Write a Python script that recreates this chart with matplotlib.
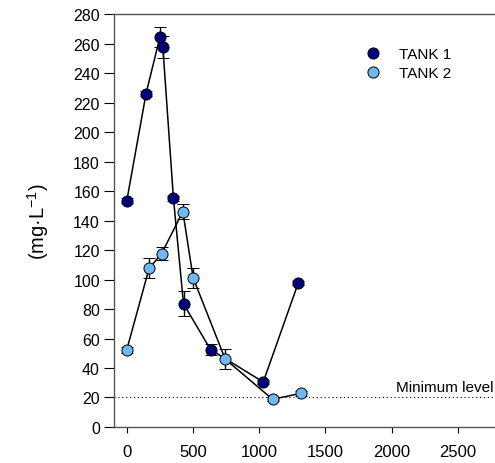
import numpy as np
import matplotlib
matplotlib.use("Agg")
import matplotlib.pyplot as plt
from matplotlib.lines import Line2D

plt.rcParams['font.family'] = ['Liberation Sans', 'DejaVu Sans']
plt.rcParams['mathtext.fontset'] = 'custom'
plt.rcParams['mathtext.rm'] = 'Liberation Sans'

# data
tank1_x = [0, 145, 250, 272, 352, 428, 632, 1030, 1295]
tank1_y = [153.5, 226, 264.5, 257.5, 155, 83.5, 52.5, 30.5, 97.8]
tank1_err = [1.5, 1.5, 6.8, 7.3, 1.5, 8.4, 3.5, 1.5, 1.5]

tank2_x = [0, 168, 262, 423, 501, 743, 1100, 1314]
tank2_y = [52.5, 107.5, 117.5, 146, 101, 46, 18.8, 22.8]
tank2_err = [2, 6.8, 4.5, 5.3, 7, 6.8, 1.5, 1.5]

min_level = 20

c1 = '#00007F'
c2 = '#6EB9F0'

fig = plt.figure(figsize=(4.95, 4.64), dpi=100)
ax = fig.add_axes([0.230, 0.0776, 0.770, 0.890])

ax.axhline(min_level, color='black', linestyle=(0, (1, 2.5)), linewidth=0.8, zorder=1)
ax.text(0.995, min_level + 2.5, 'Minimum level', transform=ax.get_yaxis_transform(),
        ha='right', va='bottom', fontsize=11)

ax.errorbar(tank1_x, tank1_y, yerr=tank1_err, fmt='-o', color='black', ecolor='black',
            elinewidth=1, capsize=4.5, capthick=1, linewidth=1.1,
            markersize=8, markerfacecolor=c1, markeredgecolor='black',
            markeredgewidth=0.7, zorder=2)
ax.errorbar(tank2_x, tank2_y, yerr=tank2_err, fmt='-o', color='black', ecolor='black',
            elinewidth=1, capsize=4.5, capthick=1, linewidth=1.1,
            markersize=8, markerfacecolor=c2, markeredgecolor='black',
            markeredgewidth=0.7, zorder=3)

ax.set_xlim(-98, 2780)
ax.set_ylim(0, 280)
ax.set_xticks(np.arange(0, 2501, 500))
ax.set_yticks(np.arange(0, 281, 20))
ax.tick_params(axis='x', direction='out', length=4, width=0.8, labelsize=12, pad=8)
ax.tick_params(axis='y', direction='out', length=7, width=0.8, labelsize=11.5, pad=3)

ax.spines['right'].set_visible(False)
for s in ['left', 'bottom', 'top']:
    ax.spines[s].set_color('#555555')
    ax.spines[s].set_linewidth(1)

ax.set_ylabel('(mg·L$^{\\mathregular{-1}}$)', fontsize=14.5)
ax.yaxis.set_label_coords(-0.165, 0.5)

handles = [Line2D([], [], linestyle='none', marker='o', markersize=8,
                  markerfacecolor=c, markeredgecolor='black', markeredgewidth=0.7)
           for c in (c1, c2)]
ax.legend(handles, ['TANK 1', 'TANK 2'], loc='upper left', bbox_to_anchor=(0.647, 0.935),
          frameon=False, fontsize=11, handlelength=0.8, handletextpad=1.3,
          labelspacing=0.35, borderaxespad=0)

fig.savefig('out.png', dpi=100)
